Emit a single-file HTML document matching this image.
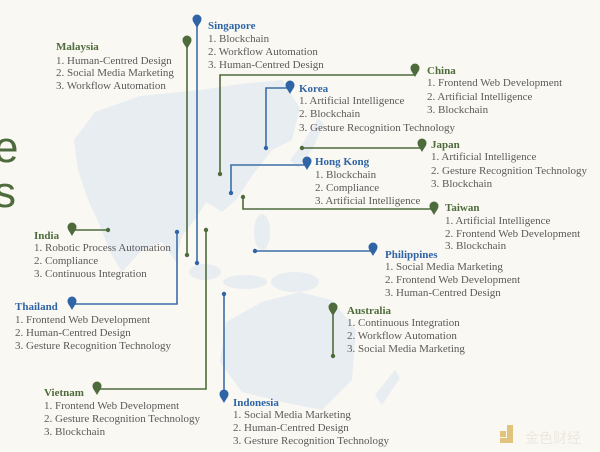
<!DOCTYPE html>
<html><head><meta charset="utf-8"><style>
html,body{margin:0;padding:0;background:#faf8f2;}
svg{display:block}
text{font-family:"Liberation Serif",serif;font-size:11px;fill:#5a5a5a}
.t{font-weight:bold;font-size:11px}
.g{fill:#4e6b3c}.b{fill:#2f64a6}
</style></head><body>
<svg width="600" height="452" viewBox="0 0 600 452" xmlns="http://www.w3.org/2000/svg">
<rect width="600" height="452" fill="#faf8f2"/>
<g fill="#e8edf2">
<path d="M95,112 L140,96 L200,90 L240,84 L282,80 L300,108 L292,140 L272,150 L252,176 L236,200 L222,212 L206,202 L196,218 L182,236 L176,262 L162,242 L142,250 L122,272 L110,252 L100,226 L88,200 L78,170 L74,140 Z"/>
<path d="M290,160 L305,140 L318,118 L324,124 L312,150 L298,168 Z"/>
<path d="M226,322 L262,302 L300,292 L332,300 L356,330 L352,380 L322,410 L282,402 L242,392 L220,362 Z"/>
<ellipse cx="205" cy="272" rx="16" ry="8"/>
<ellipse cx="245" cy="282" rx="22" ry="7"/>
<ellipse cx="295" cy="282" rx="24" ry="10"/>
<ellipse cx="262" cy="232" rx="8" ry="18"/>
<path d="M375,395 L395,370 L400,378 L382,405 Z"/>
</g>
<text x="-6" y="162" style="font-family:'Liberation Sans',sans-serif;font-size:44px;fill:#4e6b3c">e</text>
<text x="-6" y="207" style="font-family:'Liberation Sans',sans-serif;font-size:44px;fill:#4e6b3c">s</text>

<g fill="none" stroke-width="1.6">
<path d="M197,22 V263" stroke="#3d6ea8"/>
<path d="M187,43 V255" stroke="#4e6b3c"/>
<path d="M415,75 H220 V174" stroke="#4e6b3c"/>
<path d="M290,88 H266 V148" stroke="#3d6ea8"/>
<path d="M302,148 H422" stroke="#4e6b3c"/>
<path d="M307,165 H231 V193" stroke="#3d6ea8"/>
<path d="M243,197 V209 H434" stroke="#4e6b3c"/>
<path d="M255,251 H373" stroke="#3d6ea8"/>
<path d="M333,310 V356" stroke="#4e6b3c"/>
<path d="M72,230 H108" stroke="#4e6b3c"/>
<path d="M72,304 H177 V232" stroke="#3d6ea8"/>
<path d="M97,389 H206 V230" stroke="#4e6b3c"/>
<path d="M224,397 V294" stroke="#3d6ea8"/>
</g>
<g fill="#4e6b3c">
<circle cx="187" cy="255" r="2.2"/><circle cx="220" cy="174" r="2.2"/><circle cx="302" cy="148" r="2.2"/>
<circle cx="243" cy="197" r="2.2"/><circle cx="333" cy="356" r="2.2"/><circle cx="108" cy="230" r="2.2"/><circle cx="206" cy="230" r="2.2"/>
</g>
<g fill="#2f64a6">
<circle cx="197" cy="263" r="2.2"/><circle cx="266" cy="148" r="2.2"/><circle cx="231" cy="193" r="2.2"/>
<circle cx="255" cy="251" r="2.2"/><circle cx="177" cy="232" r="2.2"/><circle cx="224" cy="294" r="2.2"/>
</g>
<defs>
<path id="pin" d="M0,7 C-2,3 -4.5,1 -4.5,-2 A4.5,4.5 0 0 1 4.5,-2 C4.5,1 2,3 0,7 Z"/>
</defs>
<g fill="#2f64a6">
<use href="#pin" x="197" y="21"/><use href="#pin" x="290" y="87"/><use href="#pin" x="307" y="163"/>
<use href="#pin" x="373" y="249"/><use href="#pin" x="72" y="303"/><use href="#pin" x="224" y="396"/>
</g>
<g fill="#4e6b3c">
<use href="#pin" x="187" y="42"/><use href="#pin" x="415" y="70"/><use href="#pin" x="422" y="145"/>
<use href="#pin" x="434" y="208"/><use href="#pin" x="333" y="309"/><use href="#pin" x="72" y="229"/><use href="#pin" x="97" y="388"/>
</g>

<text x="208" y="29" class="t b">Singapore</text>
<text x="208" y="42">1. Blockchain</text><text x="208" y="55">2. Workflow Automation</text><text x="208" y="68">3. Human-Centred Design</text>

<text x="56" y="50" class="t g">Malaysia</text>
<text x="56" y="64">1. Human-Centred Design</text><text x="56" y="76">2. Social Media Marketing</text><text x="56" y="89">3. Workflow Automation</text>

<text x="427" y="74" class="t g">China</text>
<text x="427" y="86">1. Frontend Web Development</text><text x="427" y="100">2. Artificial Intelligence</text><text x="427" y="113">3. Blockchain</text>

<text x="299" y="92" class="t b">Korea</text>
<text x="299" y="104">1. Artificial Intelligence</text><text x="299" y="117">2. Blockchain</text><text x="299" y="131">3. Gesture Recognition Technology</text>

<text x="431" y="148" class="t g">Japan</text>
<text x="431" y="160">1. Artificial Intelligence</text><text x="431" y="174">2. Gesture Recognition Technology</text><text x="431" y="187">3. Blockchain</text>

<text x="315" y="165" class="t b">Hong Kong</text>
<text x="315" y="178">1. Blockchain</text><text x="315" y="191">2. Compliance</text><text x="315" y="204">3. Artificial Intelligence</text>

<text x="445" y="211" class="t g">Taiwan</text>
<text x="445" y="224">1. Artificial Intelligence</text><text x="445" y="237">2. Frontend Web Development</text><text x="445" y="249">3. Blockchain</text>

<text x="385" y="258" class="t b">Philippines</text>
<text x="385" y="270">1. Social Media Marketing</text><text x="385" y="283">2. Frontend Web Development</text><text x="385" y="296">3. Human-Centred Design</text>

<text x="347" y="314" class="t g">Australia</text>
<text x="347" y="326">1. Continuous Integration</text><text x="347" y="339">2. Workflow Automation</text><text x="347" y="352">3. Social Media Marketing</text>

<text x="34" y="239" class="t g">India</text>
<text x="34" y="251">1. Robotic Process Automation</text><text x="34" y="264">2. Compliance</text><text x="34" y="277">3. Continuous Integration</text>

<text x="15" y="310" class="t b">Thailand</text>
<text x="15" y="323">1. Frontend Web Development</text><text x="15" y="336">2. Human-Centred Design</text><text x="15" y="349">3. Gesture Recognition Technology</text>

<text x="44" y="396" class="t g">Vietnam</text>
<text x="44" y="409">1. Frontend Web Development</text><text x="44" y="422">2. Gesture Recognition Technology</text><text x="44" y="435">3. Blockchain</text>

<text x="233" y="406" class="t b">Indonesia</text>
<text x="233" y="418">1. Social Media Marketing</text><text x="233" y="431">2. Human-Centred Design</text><text x="233" y="444">3. Gesture Recognition Technology</text>

<g fill="#e2c37e"><rect x="500" y="431" width="6" height="6"/><rect x="507" y="425" width="6" height="18"/><rect x="500" y="438" width="12" height="5"/></g>
<text x="525" y="443" style="font-family:'Noto Sans CJK SC',sans-serif;font-size:14px;fill:#ece8e0">金色财经</text>
</svg>
</body></html>
